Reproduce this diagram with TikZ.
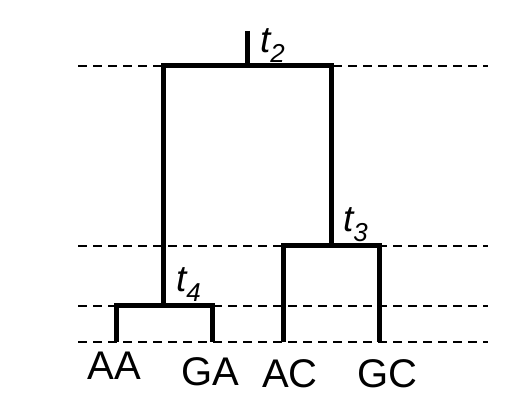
\documentclass[tikz,border=0pt]{standalone}
\usepackage{fontspec}
\setmainfont{Liberation Sans}
\tikzset{
    branch/.style={line width=5pt},
    level/.style={line width=1.4pt,dash pattern=on 9pt off 6pt},
    leaf/.style={font=\fontsize{40}{44}\selectfont,inner sep=0pt},
    time/.style={font=\fontsize{37}{40}\selectfont\itshape,inner sep=0pt,anchor=base west}
}
\begin{document}
\begin{tikzpicture}[x=1pt,y=-1pt]
    \useasboundingbox (0,0) rectangle (515,411);
    % time levels
    \foreach \y in {66,246,306,342}
        \draw[level] (78,\y) -- (488,\y);
    % internal nodes
    \coordinate (top) at (247,31);
    \coordinate (root) at (247,66);
    \coordinate (n3) at (331,246);
    \coordinate (n4) at (163,306);
    % leaves
    \coordinate (aa) at (116,342);
    \coordinate (ga) at (212,342);
    \coordinate (ac) at (283,342);
    \coordinate (gc) at (379,342);
    % tree
    \draw[branch] (top) -- (root);
    \draw[branch] (n4) |- (root) -| (n3);
    \draw[branch] (aa) |- (n4) -| (ga);
    \draw[branch] (ac) |- (n3) -| (gc);
    % labels
    \node[time] (t2) at (260,53) {t\textsubscript{2}};
    \node[time] (t3) at (343,232) {t\textsubscript{3}};
    \node[time] (t4) at (176,292) {t\textsubscript{4}};
    \node[leaf] (laa) at (114,366) {AA};
    \node[leaf] (lga) at (210,372) {GA};
    \node[leaf] (lac) at (290,374) {AC};
    \node[leaf] (lgc) at (387,374) {GC};
\end{tikzpicture}
\end{document}
